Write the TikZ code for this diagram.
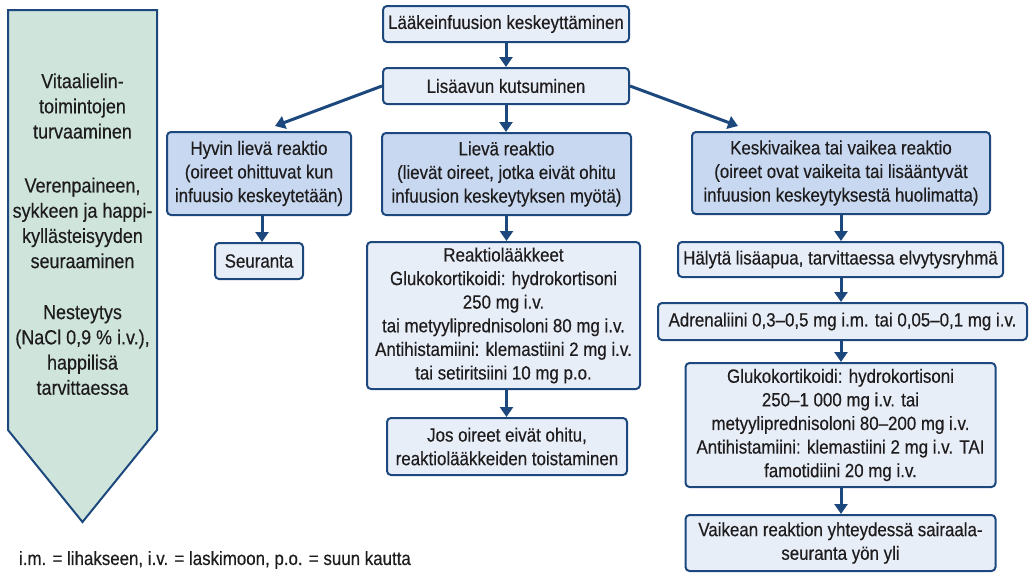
\documentclass[tikz,border=0pt]{standalone}
\usepackage{fontspec}
\setmainfont{Liberation Sans}[FakeStretch=0.88, FakeBold=0.35]
\usepackage{xcolor}
\usepackage{tikz}
\usetikzlibrary{arrows.meta, positioning, calc}

\definecolor{navy}{RGB}{29,72,126}
\definecolor{boxfill}{RGB}{232,238,248}
\definecolor{reacfill}{RGB}{199,216,240}
\definecolor{sidefill}{RGB}{207,229,220}
\definecolor{inkcol}{RGB}{30,28,29}

\begin{document}
\begin{tikzpicture}[
    x=0.5pt, y=-0.5pt,
    flowbox/.style={draw=navy, line width=1pt, rounded corners=2pt,
                    fill=boxfill, align=center, inner sep=2pt, text=inkcol,
                    font=\fontsize{9.6}{11.8}\selectfont},
    reacbox/.style={flowbox, fill=reacfill},
    sidetext/.style={align=center, text=inkcol,
                     font=\fontsize{10.2}{12.6}\selectfont},
    notetext/.style={text=inkcol, font=\fontsize{9.6}{11.8}\selectfont},
    flowarrow/.style={navy, line width=1.5pt,
                      -{Triangle[width=6.5pt,length=5pt]}},
]
\useasboundingbox (0,0) rectangle (1029,573);

%% Side arrow
\draw[navy, line width=1pt, fill=sidefill]
  (8,10) -- (157,10) -- (157,430) -- (82.5,522) -- (8,430) -- cycle;
\node[sidetext] (vital) at (82.5,106) {Vitaalielin-\\toimintojen\\turvaaminen};
\node[sidetext] (monitor) at (82.5,223) {Verenpaineen,\\sykkeen ja happi-\\kyllästeisyyden\\seuraaminen};
\node[sidetext] (fluids) at (82.5,350) {Nesteytys\\(NaCl 0,9 \% i.v.),\\happilisä\\tarvittaessa};

%% Top of the chart
\node[flowbox, minimum width=123pt, minimum height=18pt] (stop) at (506,24)
  {Lääkeinfuusion keskeyttäminen};
\node[flowbox, minimum width=123pt, minimum height=18pt] (help) at (506,86)
  {Lisäavun kutsuminen};

%% Reaction classes
\node[reacbox, minimum width=92pt, minimum height=41.5pt] (mild) at (259,173.5)
  {Hyvin lievä reaktio\\(oireet ohittuvat kun\\infuusio keskeytetään)};
\node[reacbox, minimum width=124.5pt, minimum height=41pt] (moderate) at (506.5,174)
  {Lievä reaktio\\(lievät oireet, jotka eivät ohitu\\infuusion keskeytyksen myötä)};
\node[reacbox, minimum width=149pt, minimum height=41pt] (severe) at (841,173)
  {Keskivaikea tai vaikea reaktio\\(oireet ovat vaikeita tai lisääntyvät\\infuusion keskeytyksestä huolimatta)};

%% Left column
\node[flowbox, minimum width=44pt, minimum height=18pt] (follow) at (259,261)
  {Seuranta};

%% Middle column
\node[flowbox, minimum width=136.5pt, minimum height=73.5pt] (drugs) at (503.5,315.5)
  {Reaktiolääkkeet\\Glukokortikoidi: hydrokortisoni\\250 mg i.v.\\tai metyyliprednisoloni 80 mg i.v.\\Antihistamiini: klemastiini 2 mg i.v.\\tai setiritsiini 10 mg p.o.};
\node[flowbox, minimum width=120pt, minimum height=28.5pt] (repeat) at (507,446.5)
  {Jos oireet eivät ohitu,\\reaktiolääkkeiden toistaminen};

%% Right column
\node[flowbox, minimum width=162.5pt, minimum height=17.5pt] (alarm) at (840.5,259.5)
  {Hälytä lisäapua, tarvittaessa elvytysryhmä};
\node[flowbox, minimum width=184.5pt, minimum height=18.5pt] (adren) at (842.5,321.5)
  {Adrenaliini 0,3–0,5 mg i.m. tai 0,05–0,1 mg i.v.};
\node[flowbox, minimum width=155pt, minimum height=62pt] (gluco) at (840.5,425)
  {Glukokortikoidi: hydrokortisoni\\250–1~000 mg i.v. tai\\metyyliprednisoloni 80–200 mg i.v.\\Antihistamiini: klemastiini 2 mg i.v. TAI\\famotidiini 20 mg i.v.};
\node[flowbox, minimum width=155pt, minimum height=28pt] (ward) at (840.5,543)
  {Vaikean reaktion yhteydessä sairaala-\\seuranta yön yli};

%% Footnote
\node[notetext, anchor=west] (abbrev) at (12,560)
  {i.m. = lihakseen, i.v. = laskimoon, p.o. = suun kautta};

%% Connectors
\draw[flowarrow] (stop.south) -- (help.north);
\draw[flowarrow] (help.west) -- ([xshift=8pt,yshift=2.5pt]mild.north);
\draw[flowarrow] (help.east) -- ([xshift=-51.5pt,yshift=2.5pt]severe.north);
\draw[flowarrow] (help.south) -- (help.south |- moderate.north);
\draw[flowarrow] ([xshift=1.5pt]mild.south) -- ([xshift=1.5pt]mild.south |- follow.north);
\draw[flowarrow] (moderate.south) -- (moderate.south |- drugs.north);
\draw[flowarrow] (moderate.south |- drugs.south) -- (moderate.south |- repeat.north);
\draw[flowarrow] (severe.south) -- (severe.south |- alarm.north);
\draw[flowarrow] (severe.south |- alarm.south) -- (severe.south |- adren.north);
\draw[flowarrow] (severe.south |- adren.south) -- (severe.south |- gluco.north);
\draw[flowarrow] (severe.south |- gluco.south) -- (severe.south |- ward.north);
\end{tikzpicture}
\end{document}
